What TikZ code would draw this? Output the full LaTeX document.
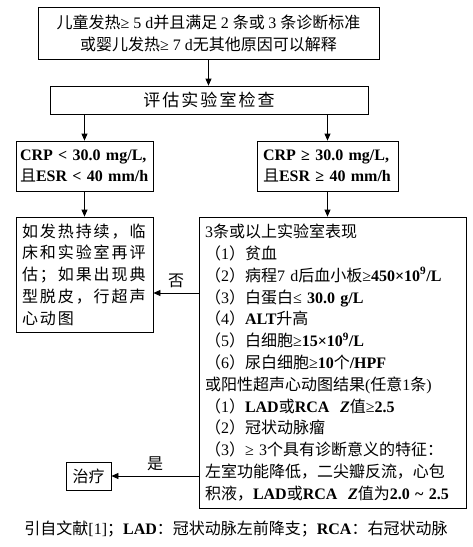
\documentclass[tikz,border=0pt]{standalone}
\usepackage{fontspec}
\setmainfont{Liberation Serif}
\newfontfamily\cjk{Noto Sans CJK SC}[BoldFont={Noto Sans CJK SC}]
\newfontfamily\cjkwide{Noto Sans CJK SC}[LetterSpace=12,BoldFont={Noto Sans CJK SC}]
\usetikzlibrary{arrows.meta}
% switch to the CJK face for Han characters and full-width punctuation
\XeTeXinterchartokenstate=1
\newXeTeXintercharclass\hanclass
\newcount\hancode
\hancode="4E00
\loop \XeTeXcharclass\hancode=\hanclass \advance\hancode by 1 \ifnum\hancode<"A000 \repeat
\hancode="3000
\loop \XeTeXcharclass\hancode=\hanclass \advance\hancode by 1 \ifnum\hancode<"3040 \repeat
\hancode="FF01
\loop \XeTeXcharclass\hancode=\hanclass \advance\hancode by 1 \ifnum\hancode<"FF5F \repeat
\newcommand\hanfont{\cjk}
\XeTeXinterchartoks 0 \hanclass = {\hanfont}
\XeTeXinterchartoks 4095 \hanclass = {\hanfont}
\XeTeXinterchartoks \hanclass 0 = {\rmfamily}
\XeTeXinterchartoks 4095 0 = {\rmfamily}
\begin{document}
\begin{tikzpicture}[x=1pt, y=-1pt,
    box/.style={draw, line width=0.8pt, inner sep=0pt, font=\fontsize{16}{21.8}\selectfont},
    arr/.style={-{Triangle[length=7pt,width=6pt]}, line width=0.8pt},
    lbl/.style={font=\fontsize{16}{20}\selectfont, inner sep=2pt}]
  \useasboundingbox (0,0) rectangle (473,547);
  % boxes
  \node[box, minimum width=341, minimum height=52, align=center] (start) at (208.5,33)
    {儿童发热≥ 5 d并且满足 2 条或 3 条诊断标准\\或婴儿发热≥ 7 d无其他原因可以解释};
  \node[box, minimum width=318, minimum height=28, font={\fontsize{17}{20}\selectfont\let\hanfont\cjkwide}] (eval) at (209,100) {评估实验室检查};
  \node[box, minimum width=137, minimum height=50, text width=129, align=left] (crpLow) at (84.5,166)
    {\textbf{CRP < 30.0 mg/L,}\\且\textbf{ESR < 40 mm/h}};
  \node[box, minimum width=141, minimum height=50, text width=129, align=left] (crpHigh) at (327.5,166)
    {\textbf{CRP ≥ 30.0 mg/L,}\\且\textbf{ESR ≥ 40 mm/h}};
  \node[box, minimum width=137, minimum height=115, text width=125, align=left,
    font={\fontsize{16}{21.7}\selectfont\let\hanfont\cjkwide}] (recheck) at (84.5,274.5)
    {如发热持续，临\\床和实验室再评\\估；如果出现典\\型脱皮，行超声\\心动图};
  \node[box, minimum width=267, minimum height=291, text width=255, align=left] (labs) at (332.5,362.5)
    {3条或以上实验室表现\\
     （1）贫血\\
     （2）病程7 d后血小板≥\textbf{450×10\textsuperscript{9}/L}\\
     （3）白蛋白≤ \textbf{30.0 g/L}\\
     （4）\textbf{ALT}升高\\
     （5）白细胞≥\textbf{15×10\textsuperscript{9}/L}\\
     （6）尿白细胞≥\textbf{10}个\textbf{/HPF}\\
     或阳性超声心动图结果(任意1条)\\
     （1）\textbf{LAD}或\textbf{RCA\ \ \textit{Z}}值≥\textbf{2.5}\\
     （2）冠状动脉瘤\\
     （3）≥ 3个具有诊断意义的特征：\\
     左室功能降低，二尖瓣反流，心包\\
     积液，\textbf{LAD}或\textbf{RCA\ \ \textit{Z}}值为\textbf{2.0 \textasciitilde{} 2.5}};
  \node[box, minimum width=45, minimum height=28] (treat) at (88.5,476) {治疗};
  \node[lbl] (note) at (236,529) {引自文献[1]；\textbf{LAD}：冠状动脉左前降支；\textbf{RCA}：右冠状动脉};
  % connectors
  \coordinate (noY) at (0,293);
  \draw[arr] (start.south) -- (start.south |- eval.north);
  \draw[arr] (eval.south -| crpLow.north) -- (crpLow.north);
  \draw[arr] (eval.south -| crpHigh.north) -- (crpHigh.north);
  \draw[arr] (crpLow.south) -- (crpLow.south |- recheck.north);
  \draw[arr] (crpHigh.south) -- (crpHigh.south |- labs.north);
  \draw[arr] (labs.west |- noY) -- (recheck.east |- noY) node[lbl, midway, above=3pt] {否};
  \draw[arr] (labs.west |- treat) -- (treat.east) node[lbl, midway, above=3pt] {是};
\end{tikzpicture}
\end{document}
